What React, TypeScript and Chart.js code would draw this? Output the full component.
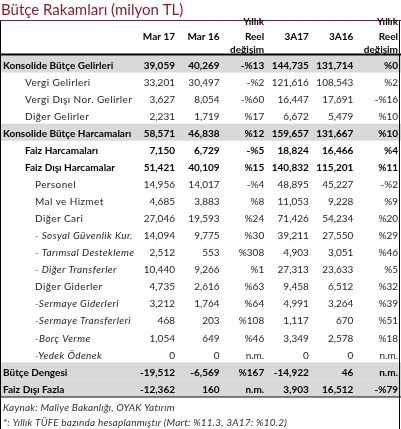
import React, { useEffect, useRef } from "react";
import { Chart, registerables } from "chart.js";

Chart.register(...registerables);

const title = "Bütçe Rakamları (milyon TL)";
const colHeaders = ["Mar 17", "Mar 16", "Yıllık|Reel|değişim", "3A17", "3A16", "Yıllık|Reel|değişim"];

const rowLabels = [
  "Konsolide Bütçe Gelirleri",
  "Vergi Gelirleri",
  "Vergi Dışı Nor. Gelirler",
  "Diğer Gelirler",
  "Konsolide Bütçe Harcamaları",
  "Faiz Harcamaları",
  "Faiz Dışı Harcamalar",
  "Personel",
  "Mal ve Hizmet",
  "Diğer Cari",
  "- Sosyal Güvenlik Kur.",
  "- Tarımsal Destekleme",
  "- Diğer Transferler",
  "Diğer Giderler",
  "-Sermaye Giderleri",
  "-Sermaye Transferleri",
  "-Borç Verme",
  "-Yedek Ödenek",
  "Bütçe Dengesi",
  "Faiz Dışı Fazla",
];

const mar17 = [39059, 33201, 3627, 2231, 58571, 7150, 51421, 14956, 4685, 27046, 14094, 2512, 10440, 4735, 3212, 468, 1054, 0, -19512, -12362];
const mar16 = [40269, 30497, 8054, 1719, 46838, 6729, 40109, 14017, 3883, 19593, 9775, 553, 9266, 2616, 1764, 203, 649, 0, -6569, 160];
const realChgMonth = ["-%13", "-%2", "-%60", "%17", "%12", "-%5", "%15", "-%4", "%8", "%24", "%30", "%308", "%1", "%63", "%64", "%108", "%46", "n.m.", "%167", "n.m."];
const q3A17 = [144735, 121616, 16447, 6672, 159657, 18824, 140832, 48895, 11053, 71426, 39211, 4903, 27313, 9458, 4991, 1117, 3349, 0, -14922, 3903];
const q3A16 = [131714, 108543, 17691, 5479, 131667, 16466, 115201, 45227, 9228, 54234, 27550, 3051, 23633, 6512, 3264, 670, 2578, 0, 46, 16512];
const realChgQ = ["%0", "%2", "-%16", "%10", "%10", "%4", "%11", "-%2", "%9", "%20", "%29", "%46", "%5", "%32", "%39", "%51", "%18", "n.m.", "n.m.", "-%79"];

const footnotes = [
  "Kaynak: Maliye Bakanlığı, OYAK Yatırım",
  "*: Yıllık TÜFE bazında hesaplanmıştır (Mart: %11.3, 3A17: %10.2)",
];

// styles (kept apart from data)
const rowIndent = [0, 1, 1, 1, 0, 1, 1, 2, 2, 2, 2, 2, 2, 2, 2, 2, 2, 2, 0, 0];
const rowBold = [1, 0, 0, 0, 1, 1, 1, 0, 0, 0, 0, 0, 0, 0, 0, 0, 0, 0, 1, 1];
const rowItalic = [0, 0, 0, 0, 0, 0, 0, 0, 0, 0, 1, 1, 1, 0, 1, 1, 1, 1, 0, 0];
const rowShade = [1, 0, 0, 0, 1, 0, 0, 0, 0, 0, 0, 0, 0, 0, 0, 0, 0, 0, 1, 1];

const W = 401;
const H = 429;
const COL_W = 44.6;
const FIRST_COL_RIGHT = 175;
const ROW0 = 65.5;
const ROW_H = 17.05;
const FONT = "Lato, 'Liberation Sans', sans-serif";
const INDENTS = [3, 25, 35];

const fmt = (v: number) => v.toLocaleString("en-US");

const columns: string[][] = [
  mar17.map(fmt),
  mar16.map(fmt),
  realChgMonth,
  q3A17.map(fmt),
  q3A16.map(fmt),
  realChgQ,
];

const tablePlugin = {
  id: "tablePlugin",
  beforeDraw(chart: any) {
    const ctx = chart.ctx as any;
    const xs = chart.scales.x;
    const ys = chart.scales.y;
    const { left, right, bottom } = chart.chartArea;
    ctx.save();
    ctx.fillStyle = "#ffffff";
    ctx.fillRect(0, 0, W, H);

    // shaded rows
    ctx.fillStyle = "#d9d9d9";
    rowShade.forEach((s, i) => {
      if (!s) return;
      const t = ys.getPixelForValue(i - 0.5) - 1.5;
      const b = ys.getPixelForValue(i + 0.5) - 1.5;
      ctx.fillRect(left, t, right - left, b - t);
    });

    // title
    ctx.fillStyle = "#7f1d2d";
    ctx.font = `15px ${FONT}`;
    ctx.textAlign = "left";
    ctx.textBaseline = "middle";
    ctx.letterSpacing = "0px";
    ctx.fillText(title, left + 1, 10);
    ctx.strokeStyle = "#7f1d2d";
    ctx.lineWidth = 1;
    ctx.beginPath();
    ctx.moveTo(left, 20.5);
    ctx.lineTo(right, 20.5);
    ctx.stroke();

    // borders
    ctx.strokeStyle = "#000";
    ctx.beginPath();
    ctx.moveTo(left + 0.5, 21);
    ctx.lineTo(left + 0.5, bottom);
    ctx.moveTo(right - 1.5, 21);
    ctx.lineTo(right - 1.5, bottom);
    ctx.stroke();

    // header line
    const headTop = ys.getPixelForValue(-0.5) - 1.5;
    ctx.lineWidth = 2;
    ctx.beginPath();
    ctx.moveTo(left, headTop - 1);
    ctx.lineTo(right, headTop - 1);
    ctx.stroke();

    // footer separator
    const footTop = ys.getPixelForValue(rowLabels.length - 0.5) - 1.5;
    ctx.lineWidth = 1;
    ctx.beginPath();
    ctx.moveTo(left, footTop + 0.5);
    ctx.lineTo(right, footTop + 0.5);
    ctx.stroke();

    // headers
    ctx.fillStyle = "#000";
    ctx.font = `bold 10px ${FONT}`;
    ctx.textAlign = "right";
    const headY = ys.getPixelForValue(-1.7);
    colHeaders.forEach((h, c) => {
      const x = xs.getPixelForValue(c);
      const parts = h.split("|");
      if (parts.length === 1) {
        ctx.fillText(h, x, headY);
      } else {
        ctx.fillText(parts[0], x, headY - 15);
        ctx.fillText(parts[1], x, headY);
        ctx.fillText(parts[2], x, headY + 13);
      }
    });

    // row labels and cells
    rowLabels.forEach((lab, r) => {
      const y = ys.getPixelForValue(r);
      const weight = rowBold[r] ? "bold " : "";
      const style = rowItalic[r] ? "italic " : "";
      ctx.font = `${style}${weight}10px ${FONT}`;
      ctx.fillStyle = rowBold[r] ? "#000" : "#262626";
      ctx.textAlign = "left";
      ctx.letterSpacing = rowBold[r] ? "0px" : "0.4px";
      ctx.fillText(lab, left + INDENTS[rowIndent[r]], y);
      ctx.letterSpacing = "0px";
      ctx.font = `${weight}10px ${FONT}`;
      ctx.textAlign = "right";
      columns.forEach((col, c) => {
        ctx.fillText(col[r], xs.getPixelForValue(c), y);
      });
    });

    // footnotes
    ctx.font = `italic 10px ${FONT}`;
    ctx.fillStyle = "#333";
    ctx.textAlign = "left";
    ctx.letterSpacing = "0.2px";
    footnotes.forEach((f, i) => {
      ctx.fillText(f, left + 3, ys.getPixelForValue(rowLabels.length + 0.05 + i * 0.88));
    });
    ctx.restore();
  },
};

export default function App() {
  const ref = useRef<HTMLCanvasElement | null>(null);
  useEffect(() => {
    document.body.style.margin = "0";
    if (!ref.current) return;
    const chart = new Chart(ref.current, {
      type: "scatter",
      data: {
        datasets: columns.map((col, c) => ({
          data: col.map((_, r) => ({ x: c, y: r })),
          pointRadius: 0,
          showLine: false,
        })),
      },
      options: {
        animation: false,
        responsive: false,
        devicePixelRatio: 1,
        layout: { padding: 0 },
        events: [],
        plugins: { legend: { display: false }, tooltip: { enabled: false } },
        scales: {
          x: {
            type: "linear",
            display: false,
            min: -FIRST_COL_RIGHT / COL_W,
            max: (W - FIRST_COL_RIGHT) / COL_W,
          },
          y: {
            type: "linear",
            display: false,
            reverse: true,
            min: -ROW0 / ROW_H,
            max: (H - ROW0) / ROW_H,
          },
        },
      },
      plugins: [tablePlugin],
    });
    return () => chart.destroy();
  }, []);
  return (
    <div style={{ position: "absolute", left: 0, top: 0, width: W, height: H }}>
      <canvas ref={ref} width={W} height={H} style={{ display: "block" }} />
    </div>
  );
}
